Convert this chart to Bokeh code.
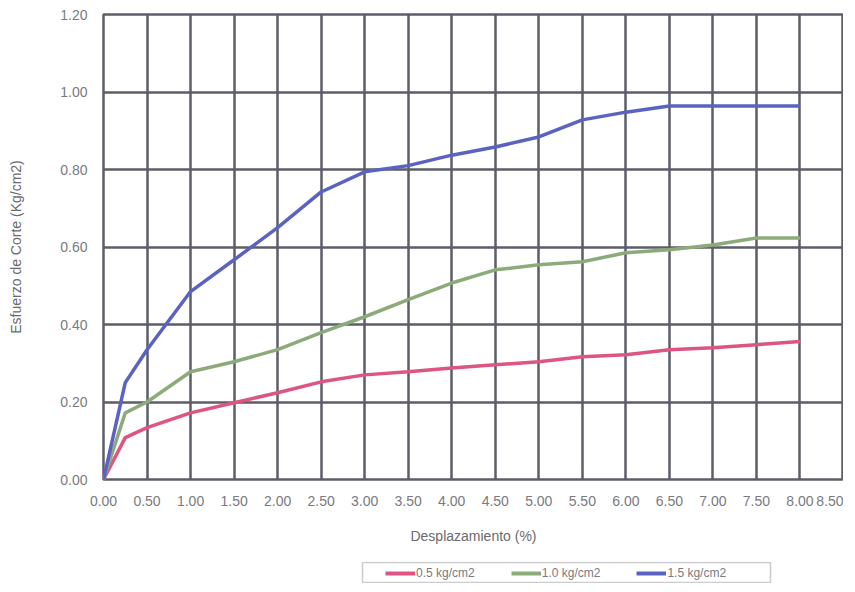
from bokeh.plotting import figure
from bokeh.layouts import column
from bokeh.models import Range1d, FixedTicker, Legend, LegendItem, CustomJSTickFormatter, BoxAnnotation
from bokeh.embed import file_html
from bokeh.resources import INLINE

x_vals = [0.0, 0.25, 0.5, 1.0, 1.5, 2.0, 2.5, 3.0, 3.5, 4.0, 4.5, 5.0, 5.5, 6.0, 6.5, 7.0, 7.5, 8.0]
s05 = [0.0, 0.108, 0.134, 0.172, 0.198, 0.224, 0.252, 0.270, 0.278, 0.288, 0.296, 0.304, 0.317, 0.322, 0.335, 0.340, 0.348, 0.356]
s10 = [0.0, 0.172, 0.200, 0.278, 0.304, 0.335, 0.379, 0.420, 0.464, 0.507, 0.541, 0.554, 0.562, 0.585, 0.593, 0.605, 0.623, 0.623]
s15 = [0.0, 0.250, 0.335, 0.485, 0.567, 0.650, 0.742, 0.794, 0.810, 0.837, 0.858, 0.884, 0.928, 0.948, 0.964, 0.964, 0.964, 0.964]
series_names = ["0.5 kg/cm2", "1.0 kg/cm2", "1.5 kg/cm2"]
x_ticks = [i * 0.5 for i in range(18)]
y_ticks = [0.0, 0.2, 0.4, 0.6, 0.8, 1.0, 1.2]

colors = ["#dd5580", "#8dab7a", "#5a62c2"]

p = figure(frame_width=740, frame_height=465, output_backend="svg", toolbar_location=None,
           x_range=Range1d(0, 8.5), y_range=Range1d(0, 1.2),
           min_border_left=103, min_border_right=0, min_border_top=14, min_border_bottom=82)
p.background_fill_color = "white"
p.border_fill_color = "white"
p.outline_line_color = "#5d5d68"
p.outline_line_width = 2.5

for ax, ticks in ((p.xaxis[0], x_ticks), (p.yaxis[0], y_ticks)):
    ax.ticker = FixedTicker(ticks=ticks)
    ax.formatter = CustomJSTickFormatter(code="return tick.toFixed(2);")
    ax.axis_line_color = None
    ax.major_tick_line_color = None
    ax.minor_tick_line_color = None
    ax.major_tick_out = 0
    ax.major_tick_in = 0
    ax.minor_tick_out = 0
    ax.major_label_text_font = "Liberation Sans"
    ax.major_label_text_font_size = "14px"
    ax.major_label_text_color = "#7a7a80"
    ax.axis_label_text_font = "Liberation Sans"
    ax.axis_label_text_font_size = "14px"
    ax.axis_label_text_font_style = "normal"
    ax.axis_label_text_color = "#6a6a70"

p.xaxis.axis_label = "Desplazamiento (%)"
p.yaxis.axis_label = "Esfuerzo de Corte (Kg/cm2)"
p.xaxis.major_label_standoff = 16
p.xaxis.axis_label_standoff = 19
p.yaxis.major_label_standoff = 16
p.yaxis.axis_label_standoff = 33

p.xgrid.ticker = FixedTicker(ticks=x_ticks)
p.ygrid.ticker = FixedTicker(ticks=y_ticks)
for g in (p.xgrid[0], p.ygrid[0]):
    g.grid_line_color = "#5d5d68"
    g.grid_line_width = 2.5
    g.grid_line_alpha = 1.0

for ys, c in zip((s05, s10, s15), colors):
    p.line(x_vals, ys, line_color=c, line_width=3.5)

# legend strip below the chart (its lines sit outside its visible range)
lg = figure(frame_width=740, frame_height=22, output_backend="svg", toolbar_location=None,
            x_range=Range1d(0, 8.5), y_range=Range1d(10, 11),
            min_border_left=103, min_border_right=0, min_border_top=0, min_border_bottom=0)
lg.axis.visible = False
lg.grid.visible = False
lg.outline_line_color = None
lg.background_fill_color = "white"
lg.border_fill_color = "white"
renderers = [lg.line(x_vals, ys, line_color=c, line_width=4) for ys, c in zip((s05, s10, s15), colors)]

box = BoxAnnotation(left=259, right=667, top=1, bottom=21,
                    left_units="screen", right_units="screen", top_units="screen", bottom_units="screen",
                    fill_color="white", fill_alpha=0, line_color="#55555f", line_width=1.5)
lg.add_layout(box)

legend = Legend(items=[LegendItem(label=n, renderers=[r]) for n, r in zip(series_names, renderers)],
                orientation="horizontal", location=(282, 3))
legend.label_text_font = "Liberation Sans"
legend.label_text_font_size = "12px"
legend.label_text_color = "#7a7a80"
legend.glyph_width = 30
legend.glyph_height = 14
legend.label_height = 14
legend.label_standoff = 1
legend.spacing = 36
legend.padding = 0
legend.margin = 0
legend.border_line_color = None
legend.background_fill_alpha = 0
lg.add_layout(legend, "center")

layout = column(p, lg, spacing=0)
open("out.html", "w").write(file_html(layout, INLINE))
